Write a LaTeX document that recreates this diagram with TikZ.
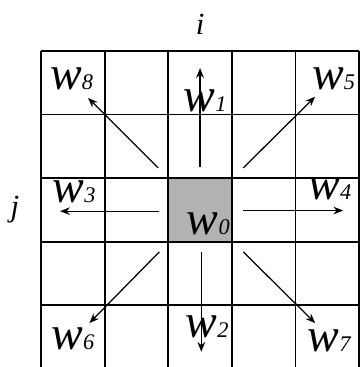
\documentclass[tikz,border=0pt]{standalone}
\usepackage{fontspec}
\setmainfont{Liberation Serif}
\usetikzlibrary{arrows.meta, positioning}

\newcommand{\wlab}[1]{{\fontsize{34}{34}\selectfont\itshape w}{\fontsize{16}{16}\selectfont\itshape #1}}
\newcommand{\axlab}[1]{{\fontsize{22}{22}\selectfont\itshape #1}}

\begin{document}
\begin{tikzpicture}[x=1.6cm, y=1.6cm, >={Stealth[length=7pt, width=5.5pt]},
    gridline/.style={line width=1.3pt},
    link/.style={->, line width=0.9pt},
    wnode/.style={inner sep=0pt, anchor=base}]

    \clip (-0.645,0.03) rectangle (5.015,5.80);

    % Centre cell and grid
    \fill[black!30] (2,2) rectangle (3,3);
    \draw[gridline] (0,0) grid[step=1] (5,5);

    % Axis labels
    \node[wnode] (i) at (2.5,5.25) {\axlab{i}};
    \node[wnode] (j) at (-0.41,2.39) {\axlab{j}};

    % Neighbour labels
    \node[wnode] (w8) at (0.48,4.39) {\wlab{8}};
    \node[wnode] (w1) at (2.58,4.04) {\wlab{1}};
    \node[wnode] (w5) at (4.60,4.39) {\wlab{5}};
    \node[wnode] (w3) at (0.52,2.61) {\wlab{3}};
    \node[wnode] (w0) at (2.63,2.11) {\wlab{0}};
    \node[wnode] (w4) at (4.54,2.66) {\wlab{4}};
    \node[wnode] (w6) at (0.50,0.30) {\wlab{6}};
    \node[wnode] (w2) at (2.61,0.50) {\wlab{2}};
    \node[wnode] (w7) at (4.53,0.27) {\wlab{7}};

    % Arrow ends
    \coordinate (s1) at (2.50,3.18);  \coordinate (e1) at (2.50,4.73);
    \coordinate (s8) at (1.84,3.16);  \coordinate (e8) at (0.74,4.26);
    \coordinate (s5) at (3.18,3.16);  \coordinate (e5) at (4.31,4.28);
    \coordinate (s3) at (1.86,2.48);  \coordinate (e3) at (0.30,2.48);
    \coordinate (s4) at (3.18,2.49);  \coordinate (e4) at (4.75,2.49);
    \coordinate (s6) at (1.86,1.84);  \coordinate (e6) at (0.76,0.72);
    \coordinate (s2) at (2.52,1.84);  \coordinate (e2) at (2.52,0.27);
    \coordinate (s7) at (3.18,1.84);  \coordinate (e7) at (4.31,0.72);

    % Arrows out of the centre cell
    \draw[link] (s1) -- (e1);
    \draw[link] (s8) -- (e8);
    \draw[link] (s5) -- (e5);
    \draw[link] (s3) -- (e3);
    \draw[link] (s4) -- (e4);
    \draw[link] (s6) -- (e6);
    \draw[link] (s2) -- (e2);
    \draw[link] (s7) -- (e7);

\end{tikzpicture}
\end{document}
